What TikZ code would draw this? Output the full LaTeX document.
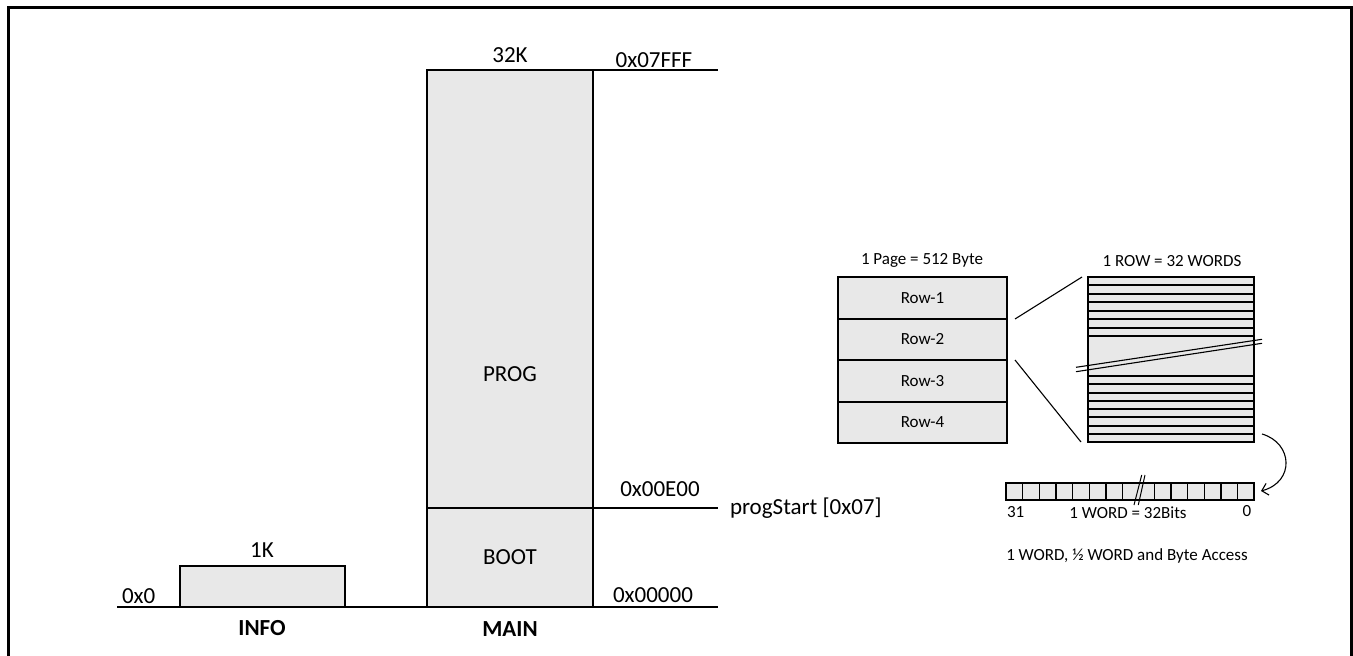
\documentclass[tikz,border=0pt]{standalone}
\usepackage{fontspec}
\setmainfont{Carlito}
\usetikzlibrary{arrows.meta}
\definecolor{memfill}{HTML}{E8E8E8}
\tikzset{
  big/.style={font=\fontsize{23}{27}\selectfont},
  small/.style={font=\fontsize{17}{20}\selectfont},
  membox/.style={draw, fill=memfill, line width=2, inner sep=0, outer sep=0},
  lbl/.style={inner sep=0, outer sep=0, anchor=base},
  axisline/.style={line width=1.6},
  thinline/.style={line width=1.1},
  stripline/.style={line width=2},
}
\begin{document}
\begin{tikzpicture}[x=1pt,y=-1pt]
\useasboundingbox (0,0) rectangle (1353,656);
% frame
\coordinate (f0) at (8,700); \coordinate (f1) at (8,7);
\coordinate (f2) at (1351,7); \coordinate (f3) at (1351,700);
\draw[line width=3] (f0) -- (f1) -- (f2) -- (f3);

% base line
\coordinate (b0) at (117,607); \coordinate (b1) at (718,607);
\draw[axisline] (b0) -- (b1);

% INFO
\node[membox, minimum width=165, minimum height=41] (info) at (262.5,586.5) {};
\node[lbl,big] (k1) at (262,557) {1K};
\node[lbl,big, anchor=base west] (a0) at (122,603) {0x0};
\node[lbl,big] (infol) at (262,635) {\textbf{INFO}};

% MAIN
\node[membox, minimum width=166, minimum height=438] (prog) at (510,289) {};
\node[lbl,big] (progl) at (510,381) {PROG};
\node[membox, minimum width=166, minimum height=99, big] (boot) at (510,557.5) {BOOT};
\coordinate (t1) at (718,70);
\draw[axisline] (prog.north east) -- (t1);
\coordinate (e1) at (718,508);
\draw[axisline] (boot.north east) -- (e1);
\node[lbl,big] (k32) at (510,62) {32K};
\node[lbl,big] (aTop) at (654,67) {0x07FFF};
\node[lbl,big] (aE00) at (660,496) {0x00E00};
\node[lbl,big] (aZero) at (653,602) {0x00000};
\node[lbl,big, anchor=base west] (ps) at (730,514) {progStart [0x07]};
\node[lbl,big] (mainl) at (510,636) {\textbf{MAIN}};

% Page
\node[lbl,small] (pagel) at (922,264) {1 Page = 512 Byte};
\node[membox, minimum width=169, minimum height=41.5, small] (row1) at (922.5,297.75) {Row-1};
\node[membox, minimum width=169, minimum height=41.5, small] (row2) at (922.5,339.25) {Row-2};
\node[membox, minimum width=169, minimum height=41.5, small] (row3) at (922.5,380.75) {Row-3};
\node[membox, minimum width=169, minimum height=41.5, small] (row4) at (922.5,422.25) {Row-4};

% zoom lines
\coordinate (z1a) at (1015,319); \coordinate (z1b) at (1082,277);
\coordinate (z2a) at (1015,360); \coordinate (z2b) at (1081,442);
\draw[thinline] (z1a) -- (z1b);
\draw[thinline] (z2a) -- (z2b);

% row detail
\node[lbl,small] (rowl) at (1172,266) {1 ROW = 32 WORDS};
\node[membox, minimum width=166, minimum height=165] (rowbox) at (1171,359.5) {};
\foreach \y in {285.4,293.9,302.3,310.7,319.1,327.6,336,376,384.25,392.5,400.75,409,417.25,425.5,433.75}
  \draw[stripline] (1088,\y) -- (1254,\y);
\coordinate (br1a) at (1076,367.3); \coordinate (br1b) at (1262,339.3);
\coordinate (br2a) at (1076,371.7); \coordinate (br2b) at (1262,343.3);
\draw[thinline] (br1a) -- (br1b);
\draw[thinline] (br2a) -- (br2b);

% curved arrow
\coordinate (arrA) at (1262,434); \coordinate (arrB) at (1261,491);
\draw[thinline, -{Straight Barb[length=6,width=12]}] (arrA) .. controls (1293,443) and (1295,482) .. (arrB);

% word bar
\node[membox, minimum width=248, minimum height=17] (word) at (1130,491.5) {};
\foreach \x in {1022.7,1039.3,1056,1072.7,1089.3,1106,1122.7,1154.3,1171,1187.7,1204.3,1221,1237.7}
  \draw[line width=1.2] (\x,483) -- (\x,500);
\coordinate (w1a) at (1134,505); \coordinate (w1b) at (1141.7,475);
\coordinate (w2a) at (1138.3,505); \coordinate (w2b) at (1145,475);
\draw[line width=1] (w1a) -- (w1b);
\draw[line width=1] (w2a) -- (w2b);
\node[lbl,small, anchor=base west] (b31) at (1007,517) {31};
\node[lbl,small] (wl) at (1128,518) {1 WORD = 32Bits};
\node[lbl,small] (b0l) at (1247,516) {0};
\node[lbl,small] (acc) at (1127,560) {1 WORD, ½ WORD and Byte Access};
\end{tikzpicture}
\end{document}
